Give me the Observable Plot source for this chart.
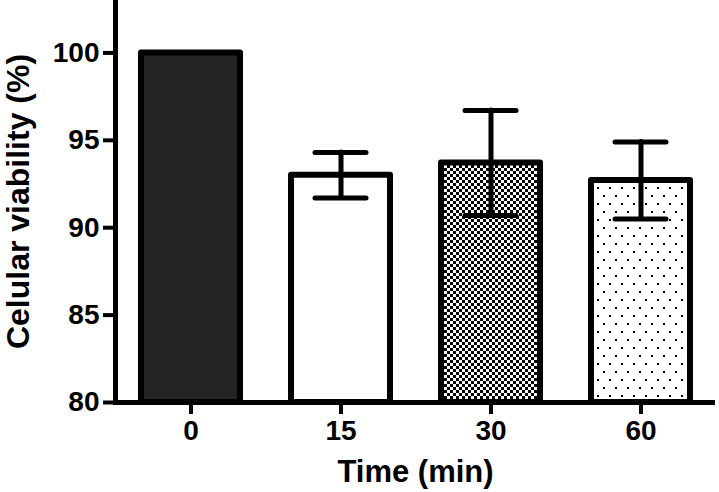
<!DOCTYPE html>
<html>
<head>
<meta charset="utf-8">
<script src="https://cdn.jsdelivr.net/npm/d3@7"></script>
<script src="https://cdn.jsdelivr.net/npm/@observablehq/plot@0.6"></script>
<style>
  html, body { margin: 0; padding: 0; background: white; }
</style>
</head>
<body>
<div id="chart"></div>
<script>
const times = ["0", "15", "30", "60"];
const viability = [100, 93.0, 93.7, 92.7];
const sd = [0, 1.3, 3.0, 2.2];
const yTicks = [80, 85, 90, 95, 100];
const xTitle = "Time (min)";
const yTitle = "Celular viability (%)";

const data = times.map((t, i) => ({time: t, v: viability[i], lo: viability[i] - sd[i], hi: viability[i] + sd[i]}));
const errData = data.filter(d => d.hi > d.lo);

const fills = {"0": "#232323", "15": "white", "30": "url(#checker)", "60": "url(#dots)"};
const font = "'Liberation Sans', Arial, Helvetica, sans-serif";

const defs = () => {
  const g = d3.create("svg:defs");
  const c = g.append("pattern").attr("id", "checker").attr("patternUnits", "userSpaceOnUse")
    .attr("width", 6).attr("height", 6);
  c.append("rect").attr("width", 6).attr("height", 6).attr("fill", "white");
  c.append("rect").attr("x", 0).attr("y", 0).attr("width", 3).attr("height", 3).attr("fill", "black");
  c.append("rect").attr("x", 3).attr("y", 3).attr("width", 3).attr("height", 3).attr("fill", "black");
  const p = g.append("pattern").attr("id", "dots").attr("patternUnits", "userSpaceOnUse")
    .attr("width", 12).attr("height", 16);
  p.append("rect").attr("width", 12).attr("height", 16).attr("fill", "white");
  p.append("rect").attr("x", 3).attr("y", 3).attr("width", 2).attr("height", 2).attr("fill", "black");
  p.append("rect").attr("x", 9).attr("y", 11).attr("width", 2).attr("height", 2).attr("fill", "black");
  return g.node();
};

const chart = Plot.plot({
  width: 719,
  height: 492,
  marginLeft: 115,
  marginRight: 4,
  marginTop: 0,
  marginBottom: 90,
  style: {fontFamily: font, background: "white", color: "black"},
  x: {domain: times, paddingInner: 0.34, paddingOuter: 0.17},
  y: {domain: [80, 103]},
  marks: [
    defs,
    ...times.map(t => Plot.barY(data.filter(d => d.time === t), {
      x: "time", y1: 80, y2: "v", fill: fills[t], stroke: "black", strokeWidth: 6, strokeLinejoin: "round"
    })),
    Plot.ruleX(errData, {x: "time", y1: "lo", y2: "hi", stroke: "black", strokeWidth: 5, strokeLinecap: "round"}),
    Plot.tickY(errData, {x: "time", y: "hi", stroke: "black", strokeWidth: 5, strokeLinecap: "round", insetLeft: 24, insetRight: 24}),
    Plot.tickY(errData, {x: "time", y: "lo", stroke: "black", strokeWidth: 5, strokeLinecap: "round", insetLeft: 24, insetRight: 24}),
    Plot.ruleY([80], {stroke: "black", strokeWidth: 5}),
    Plot.frame({anchor: "left", stroke: "black", strokeWidth: 5}),
    Plot.axisY({ticks: yTicks, tickSize: 12, tickPadding: 4, strokeWidth: 4, fontSize: 28, fontWeight: "bold", label: null}),
    Plot.axisX({tickSize: 12, tickPadding: 6, strokeWidth: 4, fontSize: 28, fontWeight: "bold", label: null}),
    Plot.text([xTitle], {text: d => d, frameAnchor: "bottom", dy: 79, fontSize: 31, fontWeight: "bold"}),
    Plot.text([yTitle], {text: d => d, frameAnchor: "left", textAnchor: "middle", rotate: -90, dx: -97, fontSize: 32, fontWeight: "bold"})
  ]
});
document.getElementById("chart").appendChild(chart);
</script>
</body>
</html>
